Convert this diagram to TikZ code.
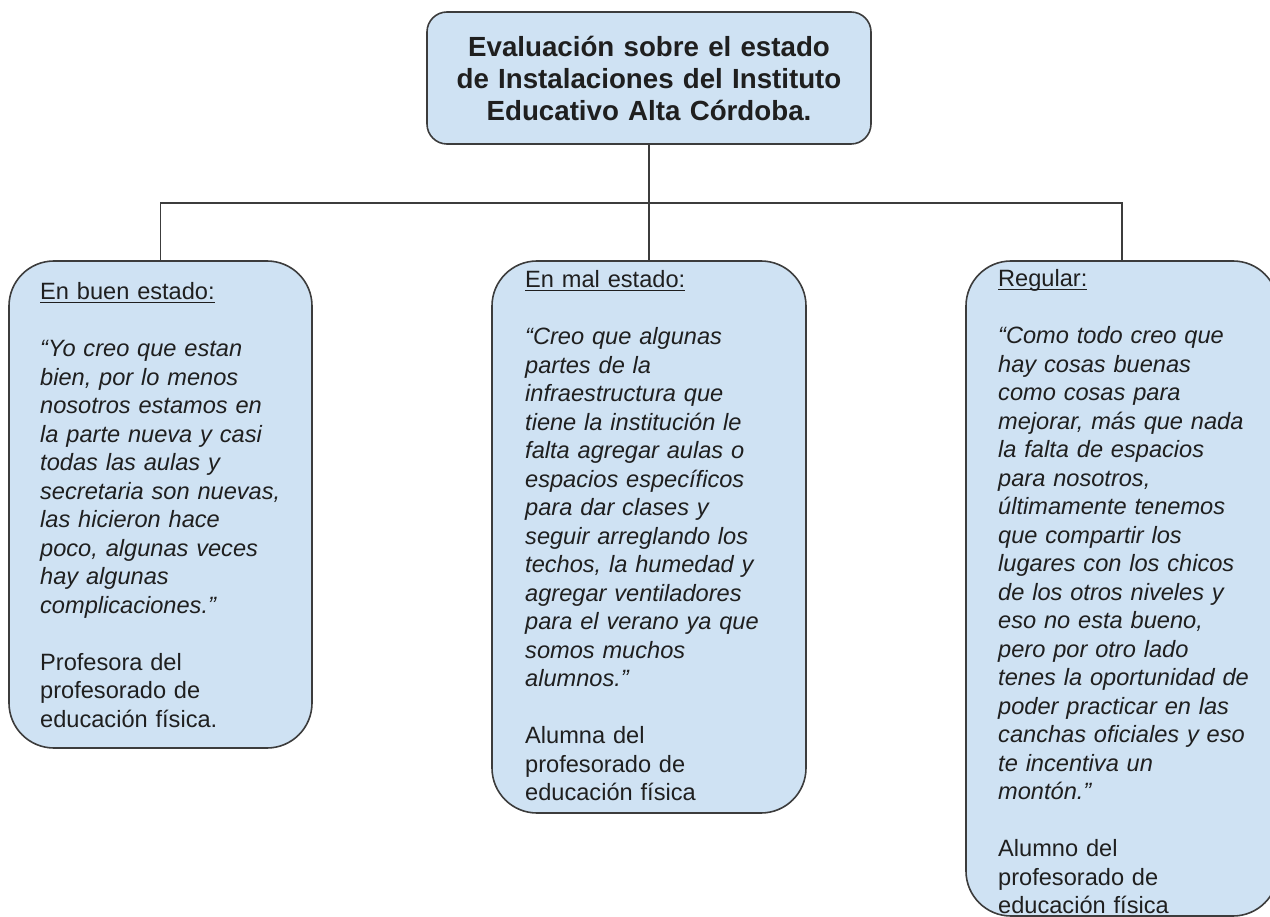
\documentclass[tikz,border=0pt]{standalone}
\usepackage{fontspec}
\setmainfont{Liberation Sans}
\definecolor{boxfill}{HTML}{CFE2F3}
\definecolor{boxline}{HTML}{3C3C3C}
\definecolor{ink}{HTML}{1F1F1F}
\newcommand{\myul}[1]{\setbox0\hbox{#1}\rlap{\rule[-3pt]{\wd0}{1.4pt}}\box0}
\begin{document}
\begin{tikzpicture}[x=1pt,y=-1pt,
  box/.style={draw=boxline, fill=boxfill, line width=1.6pt, rounded corners=45pt, inner sep=0pt},
  titlebox/.style={box, rounded corners=20pt},
  conn/.style={draw=boxline, line width=1.6pt},
  body/.style={anchor=base west, inner sep=0pt, text width=300pt, align=left, text=ink, font=\fontsize{23.6}{28.5}\selectfont},
  ttl/.style={anchor=base, inner sep=0pt, text width=440pt, align=center, text=ink, font=\bfseries\fontsize{27.7}{31.7}\selectfont}]
\useasboundingbox (0,0) rectangle (1270,917);

\node[titlebox, minimum width=444pt, minimum height=132pt] (title) at (649,78) {};
\node[box, minimum width=303pt, minimum height=487pt] (left) at (160.5,504.5) {};
\node[box, minimum width=314pt, minimum height=552pt] (mid) at (649,537) {};
\node[box, minimum width=312pt, minimum height=655pt] (right) at (1122,588.5) {};

\coordinate (hub) at (649,203);
\draw[conn] (title.south) -- (hub);
\draw[conn] (left.north) |- (hub) -| (right.north);
\draw[conn] (hub) -- (mid.north);

\node[ttl] (ttltext) at (649,57) {Evaluación sobre el estado\\de Instalaciones del Instituto\\Educativo Alta Córdoba.};

\node[body] (lefttext) at (40,300) {\myul{En buen estado:}\\[28.5pt]
\itshape “Yo creo que estan\\bien, por lo menos\\nosotros estamos en\\la parte nueva y casi\\todas las aulas y\\secretaria son nuevas,\\las hicieron hace\\poco, algunas veces\\hay algunas\\complicaciones.”\\[28.5pt]
\upshape Profesora del\\profesorado de\\educación física.};

\node[body] (midtext) at (525,288) {\myul{En mal estado:}\\[28.5pt]
\itshape “Creo que algunas\\partes de la\\infraestructura que\\tiene la institución le\\falta agregar aulas o\\espacios específicos\\para dar clases y\\seguir arreglando los\\techos, la humedad y\\agregar ventiladores\\para el verano ya que\\somos muchos\\alumnos.”\\[28.5pt]
\upshape Alumna del\\profesorado de\\educación física};

\node[body] (righttext) at (998,287) {\myul{Regular:}\\[28.5pt]
\itshape “Como todo creo que\\hay cosas buenas\\como cosas para\\mejorar, más que nada\\la falta de espacios\\para nosotros,\\últimamente tenemos\\que compartir los\\lugares con los chicos\\de los otros niveles y\\eso no esta bueno,\\pero por otro lado\\tenes la oportunidad de\\poder practicar en las\\canchas oficiales y eso\\te incentiva un\\montón.”\\[28.5pt]
\upshape Alumno del\\profesorado de\\educación física};
\end{tikzpicture}
\end{document}
